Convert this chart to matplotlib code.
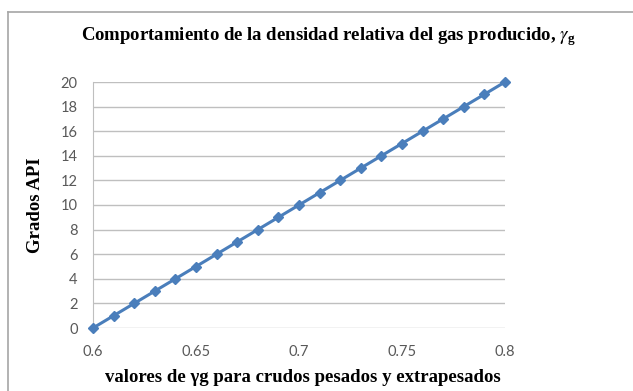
import matplotlib as mpl
from matplotlib import pyplot as plt
from matplotlib.lines import Line2D
import numpy as np

# gas relative density vs API gravity
gamma_g = [0.60, 0.61, 0.62, 0.63, 0.64, 0.65, 0.66, 0.67, 0.68, 0.69, 0.70,
           0.71, 0.72, 0.73, 0.74, 0.75, 0.76, 0.77, 0.78, 0.79, 0.80]
api = [0, 1, 2, 3, 4, 5, 6, 7, 8, 9, 10,
       11, 12, 13, 14, 15, 16, 17, 18, 19, 20]
x_ticks = [0.6, 0.65, 0.7, 0.75, 0.8]
x_tick_labels = ["0.6", "0.65", "0.7", "0.75", "0.8"]
y_ticks = list(range(0, 21, 2))

TITLE = "Comportamiento de la densidad relativa del gas producido, $\\gamma_\\mathregular{g}$"
XLABEL = "valores de γg para crudos pesados y extrapesados"
YLABEL = "Grados API"

SERIF = "Liberation Serif"
SANS = "Lato"
BLUE = "#4A7EBB"


def main():
  mpl.rcParams["mathtext.fontset"] = "stix"
  W, H = 633, 391
  fig = plt.figure(figsize=(W / 100, H / 100), dpi=100)

  # chart frame (only left and top edges visible in the reference)
  fx0, fy0 = 8 / W, 1 - 12 / H
  fig.add_artist(Line2D([fx0, fx0], [0, fy0], transform=fig.transFigure,
                        color="#A6A6A6", lw=1.2))
  fig.add_artist(Line2D([fx0, 1], [fy0, fy0], transform=fig.transFigure,
                        color="#A6A6A6", lw=1.2))

  left, right, top, bottom = 93, 505, 82, 328
  ax = fig.add_axes([left / W, 1 - bottom / H, (right - left) / W, (bottom - top) / H])

  ax.plot(gamma_g, api, color=BLUE, lw=2.2, marker="D", markersize=5.5,
          markerfacecolor=BLUE, markeredgecolor=BLUE, clip_on=False, zorder=3)

  ax.set_xlim(0.6, 0.8)
  ax.set_ylim(0, 20)
  ax.set_xticks(x_ticks)
  ax.set_xticklabels(x_tick_labels)
  ax.set_yticks(y_ticks)
  ax.grid(axis="y", color="#BFBFBF", lw=1)
  ax.set_axisbelow(True)
  for s in ["top", "right", "bottom"]:
    ax.spines[s].set_visible(False)
  ax.spines["left"].set_color("#BFBFBF")
  ax.tick_params(length=0, labelsize=10.5, colors="#595959")
  ax.tick_params(axis="y", pad=11)
  ax.tick_params(axis="x", pad=12)
  for lab in ax.get_xticklabels() + ax.get_yticklabels():
    lab.set_family(SANS)

  fig.text(328 / W, 1 - 37 / H, TITLE, ha="center", va="center",
           family=SERIF, weight="bold", fontsize=13.5)
  fig.text(303 / W, 1 - 377 / H, XLABEL, ha="center", va="center",
           family=SERIF, weight="bold", fontsize=13.5)
  fig.text(35 / W, 1 - 205 / H, YLABEL, ha="center", va="center", rotation=90,
           family=SERIF, weight="bold", fontsize=13.5)

  fig.savefig("out.png", dpi=100)


if __name__ == "__main__":
  main()
